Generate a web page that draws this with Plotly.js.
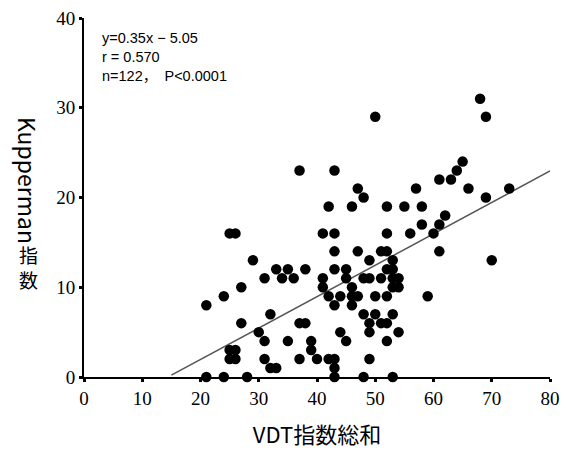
<!DOCTYPE html>
<html>
<head>
<meta charset="utf-8">
<script src="https://cdn.plot.ly/plotly-3.0.1.min.js"></script>
<style>html,body{margin:0;padding:0;background:#fff;}#chart{width:567px;height:459px;}</style>
</head>
<body>
<div id="chart"></div>
<script>
// VDT index total (x) and Kupperman index (y)
var vdtIndex = [
  21,24,28,43,48,53,
  32,33,43,
  25,26,31,37,40,42,43,49,
  25,26,39,
  31,35,39,45,52,
  30,44,49,54,
  27,37,38,49,51,52,
  32,48,50,53,
  21,43,46,
  24,42,44,46,47,50,52,59,
  27,41,46,53,54,
  31,34,36,41,45,48,49,51,53,54,
  33,35,38,43,45,52,53,
  29,49,53,70,
  43,47,51,52,61,
  25,26,41,43,52,56,60,
  58,61,
  62,
  42,46,52,55,58,
  48,69,
  47,57,66,73,
  61,63,
  37,43,64,
  65,
  50,69,
  68
];
var kuppermanIndex = [
  0,0,0,0,0,0,
  1,1,1,
  2,2,2,2,2,2,2,2,
  3,3,3,
  4,4,4,4,4,
  5,5,5,5,
  6,6,6,6,6,6,
  7,7,7,7,
  8,8,8,
  9,9,9,9,9,9,9,9,
  10,10,10,10,10,
  11,11,11,11,11,11,11,11,11,11,
  12,12,12,12,12,12,12,
  13,13,13,13,
  14,14,14,14,14,
  16,16,16,16,16,16,16,
  17,17,
  18,
  19,19,19,19,19,
  20,20,
  21,21,21,21,
  22,22,
  23,23,23,
  24,
  29,29,
  31
];
var slope = 0.35;
var intercept = -5.05;
var fitXRange = [15, 80];
var fitY = fitXRange.map(function(x){ return slope * x + intercept; });

var xTickVals = [0,10,20,30,40,50,60,70,80];
var yTickVals = [0,10,20,30,40];

var statLines = ["y=0.35x − 5.05", "r = 0.570", "n=122，　P&lt;0.0001"];
var xTitle = "VDT指数総和";
var yTitleLatin = "Kupperman";
var yTitleCJK = ["指", "数"];

var cjk = "'Noto Sans CJK JP', 'Noto Sans', sans-serif";
var serif = "'Liberation Serif', 'DejaVu Serif', serif";

var traces = [
  {
    x: fitXRange, y: fitY, type: "scatter", mode: "lines",
    line: {color: "#555555", width: 1.5},
    hoverinfo: "skip", showlegend: false, cliponaxis: false
  },
  {
    x: vdtIndex, y: kuppermanIndex, type: "scatter", mode: "markers",
    marker: {color: "#000000", size: 10.5, line: {width: 0}},
    showlegend: false, cliponaxis: false
  }
];

function px2paperX(p){ return (p - 84) / 466; }
function px2paperY(p){ return (377 - p) / 359; }

var annotations = [
  {
    xref: "paper", yref: "paper", x: px2paperX(100), y: px2paperY(28),
    xanchor: "left", yanchor: "top", align: "left", showarrow: false,
    text: statLines.join("<br>"),
    font: {family: "'Liberation Sans', " + cjk, size: 14.5, color: "#000"}
  },
  {
    xref: "paper", yref: "paper", x: px2paperX(28), y: px2paperY(180),
    xanchor: "center", yanchor: "middle", showarrow: false, textangle: 90,
    text: yTitleLatin,
    font: {family: cjk, size: 23, color: "#000"}
  },
  {
    xref: "paper", yref: "paper", x: px2paperX(28), y: px2paperY(267),
    xanchor: "center", yanchor: "middle", showarrow: false,
    text: yTitleCJK.join("<br>"),
    font: {family: cjk, size: 19, color: "#000"}
  }
];

var layout = {
  width: 567, height: 459,
  margin: {l: 84, r: 17, t: 18, b: 82, pad: 0},
  paper_bgcolor: "#ffffff", plot_bgcolor: "#ffffff",
  showlegend: false,
  xaxis: {
    range: [0, 80], tickvals: xTickVals, ticktext: xTickVals.map(String),
    showgrid: false, zeroline: false,
    showline: true, linecolor: "#000", linewidth: 2,
    ticks: "outside", ticklen: 3, tickwidth: 3, tickcolor: "#000",
    tickfont: {family: serif, size: 19, color: "#000"},
    title: {text: xTitle, font: {family: cjk, size: 22, color: "#000"}, standoff: 20}
  },
  yaxis: {
    range: [0, 40], tickvals: yTickVals, ticktext: yTickVals.map(String),
    showgrid: false, zeroline: false,
    showline: true, linecolor: "#000", linewidth: 2,
    ticks: "outside", ticklen: 3, tickwidth: 3, tickcolor: "#000",
    tickfont: {family: serif, size: 19, color: "#000"}
  },
  annotations: annotations
};

Plotly.newPlot("chart", traces, layout, {displayModeBar: false, staticPlot: true});
</script>
</body>
</html>
